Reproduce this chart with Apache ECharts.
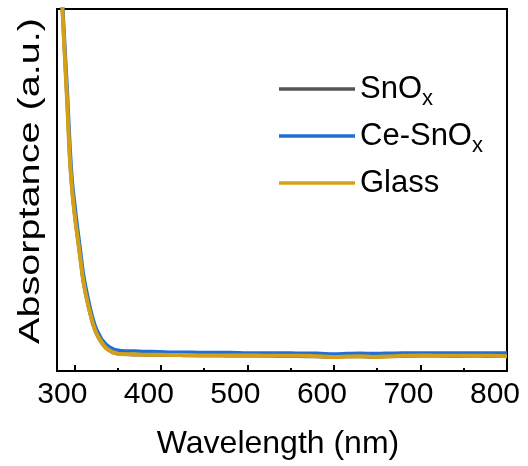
<!DOCTYPE html>
<html>
<head>
<meta charset="utf-8">
<script src="https://cdn.jsdelivr.net/npm/echarts@6/dist/echarts.min.js"></script>
<style>
html,body{margin:0;padding:0;background:#fff;}
#chart{width:528px;height:466px;}
</style>
</head>
<body>
<div id="chart"></div>
<script>
// ---- data ----
var wavelength = [284, 286, 289, 292, 295, 298, 301, 304, 307, 310, 313, 316, 319, 322, 325, 328, 331, 334, 337, 340, 343, 346, 349, 352, 356, 360, 370, 380, 390, 400, 415, 430, 445, 460, 480, 500, 520, 540, 560, 580, 600, 615, 630, 645, 660, 680, 700, 720, 740, 760, 780, 800];
var snox = [1.10, 1.01, 0.87, 0.73, 0.58, 0.485, 0.42, 0.364, 0.309, 0.254, 0.214, 0.181, 0.152, 0.126, 0.106, 0.092, 0.080, 0.070, 0.062, 0.057, 0.053, 0.050, 0.048, 0.047, 0.046, 0.046, 0.045, 0.045, 0.044, 0.044, 0.044, 0.043, 0.043, 0.043, 0.042, 0.042, 0.042, 0.041, 0.041, 0.040, 0.039, 0.040, 0.040, 0.039, 0.040, 0.041, 0.042, 0.042, 0.041, 0.042, 0.041, 0.041];
var ceSnox = [1.10, 1.03, 0.90, 0.77, 0.62, 0.515, 0.45, 0.39, 0.335, 0.277, 0.235, 0.20, 0.168, 0.141, 0.119, 0.104, 0.091, 0.081, 0.073, 0.067, 0.063, 0.060, 0.058, 0.057, 0.056, 0.055, 0.055, 0.054, 0.054, 0.053, 0.052, 0.052, 0.051, 0.051, 0.051, 0.050, 0.050, 0.050, 0.049, 0.049, 0.047, 0.048, 0.049, 0.048, 0.049, 0.050, 0.050, 0.050, 0.050, 0.050, 0.050, 0.050];
var glass = [1.10, 1.01, 0.87, 0.73, 0.58, 0.485, 0.42, 0.365, 0.31, 0.255, 0.215, 0.182, 0.153, 0.127, 0.107, 0.093, 0.081, 0.071, 0.063, 0.058, 0.054, 0.051, 0.049, 0.047, 0.047, 0.046, 0.046, 0.045, 0.045, 0.045, 0.044, 0.044, 0.043, 0.043, 0.043, 0.043, 0.042, 0.042, 0.042, 0.041, 0.039, 0.040, 0.041, 0.039, 0.040, 0.042, 0.043, 0.042, 0.042, 0.042, 0.042, 0.041];
var seriesNames = ['SnOx', 'Ce-SnOx', 'Glass'];
var majorTicks = [300, 400, 500, 600, 700, 800];
var minorTicks = [350, 450, 550, 650, 750];
var xTitle = 'Wavelength (nm)';
var yTitle = 'Absorptance (a.u.)';

function pairs(vals) {
  return wavelength.map(function (w, i) { return [w, vals[i]]; });
}

var FONT = '"Liberation Sans", Arial, Helvetica, sans-serif';
var colors = ['#555555', '#1f6fd6', '#d4a017'];

var chart = echarts.init(document.getElementById('chart'), null, {renderer: 'canvas'});
var option = {
  animation: false,
  backgroundColor: '#ffffff',
  grid: {
    left: 57, right: 21, top: 9, bottom: 95,
    containLabel: false,
    outerBoundsMode: 'none',
    show: true,
    borderColor: '#000',
    borderWidth: 2,
    backgroundColor: 'transparent'
  },
  legend: {
    orient: 'vertical',
    left: 279,
    top: 68,
    padding: 0,
    itemGap: 5,
    itemWidth: 76,
    itemHeight: 3.5,
    icon: 'rect',
    data: seriesNames,
    formatter: function (name) {
      return name.replace(/Ox$/, 'O{sub|x}');
    },
    textStyle: {
      fontFamily: FONT,
      fontSize: 31,
      color: '#000',
      lineHeight: 42,
      rich: {
        sub: { fontFamily: FONT, fontSize: 22, lineHeight: 22, verticalAlign: 'bottom', color: '#000' }
      }
    }
  },
  xAxis: [
    {
      type: 'value',
      min: 280,
      max: 800,
      position: 'bottom',
      name: xTitle,
      nameLocation: 'middle',
      nameGap: 57,
      nameTextStyle: { fontFamily: FONT, fontSize: 32, color: '#000', padding: [0, 8, 0, 0] },
      axisLine: { show: true, lineStyle: { color: '#000', width: 2 } },
      axisTick: { show: true, inside: true, length: 6, customValues: majorTicks, lineStyle: { color: '#000', width: 2 } },
      axisLabel: { show: true, customValues: majorTicks, margin: 9, fontFamily: FONT, fontSize: 30, color: '#000', padding: [0, 24, 0, 0] },
      splitLine: { show: false }
    },
    {
      type: 'value',
      min: 280,
      max: 800,
      position: 'bottom',
      axisLine: { show: false },
      axisTick: { show: true, inside: true, length: 3, customValues: minorTicks, lineStyle: { color: '#000', width: 2 } },
      axisLabel: { show: false },
      splitLine: { show: false }
    }
  ],
  yAxis: {
    type: 'value',
    min: 0,
    max: 1,
    axisLine: { show: true, lineStyle: { color: '#000', width: 2 } },
    axisTick: { show: false },
    axisLabel: { show: false },
    splitLine: { show: false }
  },
  graphic: [
    {
      type: 'text',
      x: 31,
      y: 181,
      rotation: Math.PI / 2,
      scaleX: 1.32,
      silent: true,
      style: {
        text: yTitle,
        font: '30px "Liberation Sans", Arial, sans-serif',
        fill: '#000',
        textAlign: 'center',
        textVerticalAlign: 'middle'
      }
    }
  ],
  series: [
    { name: seriesNames[0], type: 'line', xAxisIndex: 0, data: pairs(snox), showSymbol: false, smooth: 0.3, clip: true, lineStyle: { color: colors[0], width: 3.5 }, itemStyle: { color: colors[0] }, z: 2 },
    { name: seriesNames[1], type: 'line', xAxisIndex: 0, data: pairs(ceSnox), showSymbol: false, smooth: 0.3, clip: true, lineStyle: { color: colors[1], width: 3.5 }, itemStyle: { color: colors[1] }, z: 3 },
    { name: seriesNames[2], type: 'line', xAxisIndex: 0, data: pairs(glass), showSymbol: false, smooth: 0.3, clip: true, lineStyle: { color: colors[2], width: 4 }, itemStyle: { color: colors[2] }, z: 4 }
  ]
};
chart.setOption(option);
</script>
</body>
</html>
